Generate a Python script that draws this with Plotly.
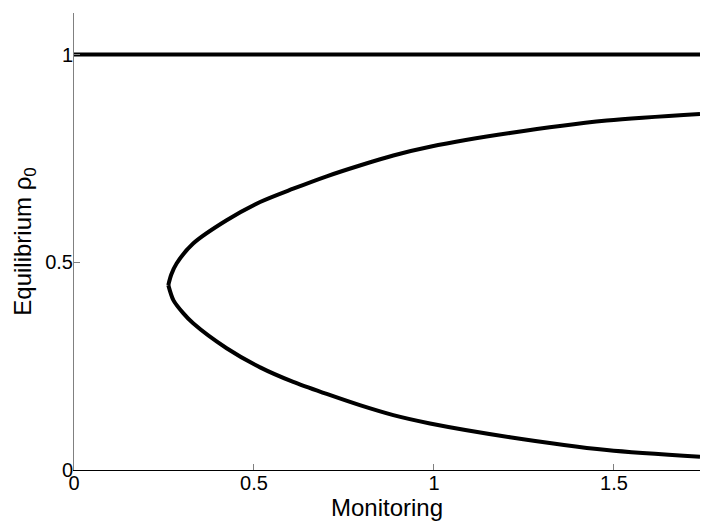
import plotly.graph_objects as go

# Upper branch of the equilibrium curve
upper_x = [0.262, 0.270, 0.285, 0.331, 0.424, 0.517, 0.609, 0.702, 0.794, 0.887, 0.989, 1.211, 1.480, 1.739]
upper_y = [0.445, 0.470, 0.497, 0.545, 0.601, 0.645, 0.677, 0.707, 0.733, 0.757, 0.778, 0.811, 0.841, 0.857]
# Lower branch
lower_x = [0.262, 0.276, 0.304, 0.331, 0.424, 0.517, 0.609, 0.702, 0.794, 0.887, 0.989, 1.211, 1.480, 1.739]
lower_y = [0.445, 0.409, 0.377, 0.353, 0.293, 0.247, 0.212, 0.183, 0.156, 0.132, 0.112, 0.079, 0.048, 0.032]
# Trivial equilibrium
top_x = [0.0, 1.739]
top_y = [1.0, 1.0]

x_ticks = [0, 0.5, 1, 1.5]
x_tick_labels = ["0", "0.5", "1", "1.5"]
y_ticks = [0, 0.5, 1]
y_tick_labels = ["0", "0.5", "1"]

fig = go.Figure()
fig.add_trace(go.Scatter(x=top_x, y=top_y, mode="lines",
                         line=dict(color="black", width=4), showlegend=False))
for bx, by in ((upper_x, upper_y), (lower_x, lower_y)):
    fig.add_trace(go.Scatter(x=bx, y=by, mode="lines",
                             line=dict(color="black", width=4, shape="spline", smoothing=0.8),
                             showlegend=False))

font = "Liberation Sans, Arial, Helvetica, sans-serif"
fig.update_layout(
    width=701, height=523,
    margin=dict(l=74, r=1, t=13, b=53),
    paper_bgcolor="white", plot_bgcolor="white",
    font=dict(family=font, color="black", size=20),
    xaxis=dict(range=[0, 1.739], tickvals=x_ticks, ticktext=x_tick_labels,
               ticks="inside", ticklen=6, tickcolor="#808080", tickwidth=1,
               showline=True, linecolor="black", linewidth=1, showgrid=False, zeroline=False,
               automargin=False, ticklabelstandoff=-5,
               title=dict(text="Monitoring", font=dict(size=24), standoff=0),
               tickfont=dict(size=20)),
    yaxis=dict(range=[0, 1.1], tickvals=y_ticks, ticktext=y_tick_labels,
               ticks="inside", ticklen=6, tickcolor="#808080", tickwidth=1,
               showline=True, linecolor="#808080", linewidth=1, showgrid=False, zeroline=False,
               automargin=False, ticklabelstandoff=-4,
               title=dict(text="Equilibrium ρ<sub>0</sub>", font=dict(size=24), standoff=6),
               tickfont=dict(size=20)),
)
fig.write_html("out.html", config={"displayModeBar": False},
               post_script="document.body.style.margin='0';")
